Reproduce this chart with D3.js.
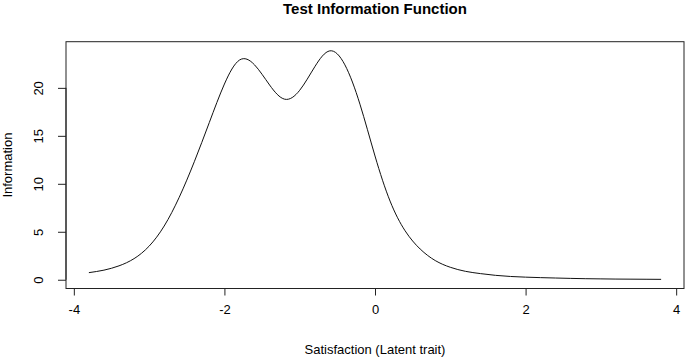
<!DOCTYPE html>
<html>
<head>
<meta charset="utf-8">
<script src="https://cdn.jsdelivr.net/npm/d3@7"></script>
<style>
  body { margin: 0; background: #fff; }
  svg text { font-family: "Liberation Sans", Arial, sans-serif; fill: #000; }
</style>
</head>
<body>
<svg id="chart" width="685" height="358"></svg>
<script>
// theta grid and information values
const theta = [-3.8, -3.6, -3.4, -3.2, -3.0, -2.8, -2.6, -2.4, -2.2, -2.0,
               -1.8, -1.6, -1.4, -1.2, -1.0, -0.8, -0.6, -0.4, -0.2, 0.0,
               0.2, 0.4, 0.6, 0.8, 1.0, 1.2, 1.4, 1.6, 1.8, 2.0,
               2.2, 2.4, 2.6, 2.8, 3.0, 3.2, 3.4, 3.6, 3.8];
const info = [0.74, 1.0, 1.45, 2.2, 3.5, 5.6, 8.6, 12.3, 16.4, 20.4,
              22.9, 22.4, 20.3, 18.82, 19.75, 22.2, 23.86, 22.4, 18.3, 12.9,
              8.2, 5.1, 3.2, 2.0, 1.3, 0.88, 0.64, 0.46, 0.34, 0.27,
              0.22, 0.18, 0.14, 0.11, 0.09, 0.07, 0.06, 0.05, 0.04];
const xTicks = [-4, -2, 0, 2, 4];
const yTicks = [0, 5, 10, 15, 20];

const box = { left: 66, right: 684, top: 41.7, bottom: 288.5 };

const svg = d3.select("#chart");

// R-style 4% padding around the data range
const xr = d3.extent(theta), yr = d3.extent(info);
const xPad = (xr[1] - xr[0]) * 0.04, yPad = (yr[1] - yr[0]) * 0.04;

const x = d3.scaleLinear()
    .domain([xr[0] - xPad, xr[1] + xPad])
    .range([box.left, box.right]);

const y = d3.scaleLinear()
    .domain([yr[0] - yPad, yr[1] + yPad])
    .range([box.bottom, box.top]);

// curve
const line = d3.line()
    .x((d, i) => x(theta[i]))
    .y(d => y(d))
    .curve(d3.curveNatural);

svg.append("path")
    .datum(info)
    .attr("d", line)
    .attr("fill", "none")
    .attr("stroke", "#111")
    .attr("stroke-width", 1);

// frame
svg.append("rect")
    .attr("x", box.left)
    .attr("y", box.top)
    .attr("width", box.right - box.left)
    .attr("height", box.bottom - box.top)
    .attr("fill", "none")
    .attr("stroke", "#222")
    .attr("stroke-width", 1);

// axes
const xAxis = svg.append("g")
    .attr("transform", `translate(0,${box.bottom})`)
    .call(d3.axisBottom(x).tickValues(xTicks).tickSize(7).tickPadding(9).tickFormat(d3.format("d")));
xAxis.select(".domain")
    .attr("d", `M${x(xTicks[0])},0H${x(xTicks[xTicks.length - 1])}`);
xAxis.selectAll("text")
    .style("font-size", "13px")
    .text(d => d < 0 ? "-" + Math.abs(d) : d);

const yAxis = svg.append("g")
    .attr("transform", `translate(${box.left},0)`)
    .call(d3.axisLeft(y).tickValues(yTicks).tickSize(8).tickFormat(d3.format("d")));
yAxis.select(".domain")
    .attr("d", `M0,${y(yTicks[0])}V${y(yTicks[yTicks.length - 1])}`);
yAxis.selectAll(".tick text")
    .attr("x", null).attr("dy", null)
    .attr("transform", "translate(-26,0) rotate(-90)")
    .attr("text-anchor", "middle")
    .attr("dominant-baseline", "middle")
    .style("font-size", "13px");

svg.selectAll(".tick line, .domain").attr("stroke", "#222");

// titles
svg.append("text")
    .attr("x", (box.left + box.right) / 2)
    .attr("y", 14)
    .attr("text-anchor", "middle")
    .style("font-size", "15px")
    .style("font-weight", "bold")
    .text("Test Information Function");

svg.append("text")
    .attr("x", (box.left + box.right) / 2)
    .attr("y", 354)
    .attr("text-anchor", "middle")
    .style("font-size", "13px")
    .text("Satisfaction (Latent trait)");

svg.append("text")
    .attr("transform", `translate(12,${(box.top + box.bottom) / 2}) rotate(-90)`)
    .attr("text-anchor", "middle")
    .style("font-size", "13px")
    .text("Information");
</script>
</body>
</html>
